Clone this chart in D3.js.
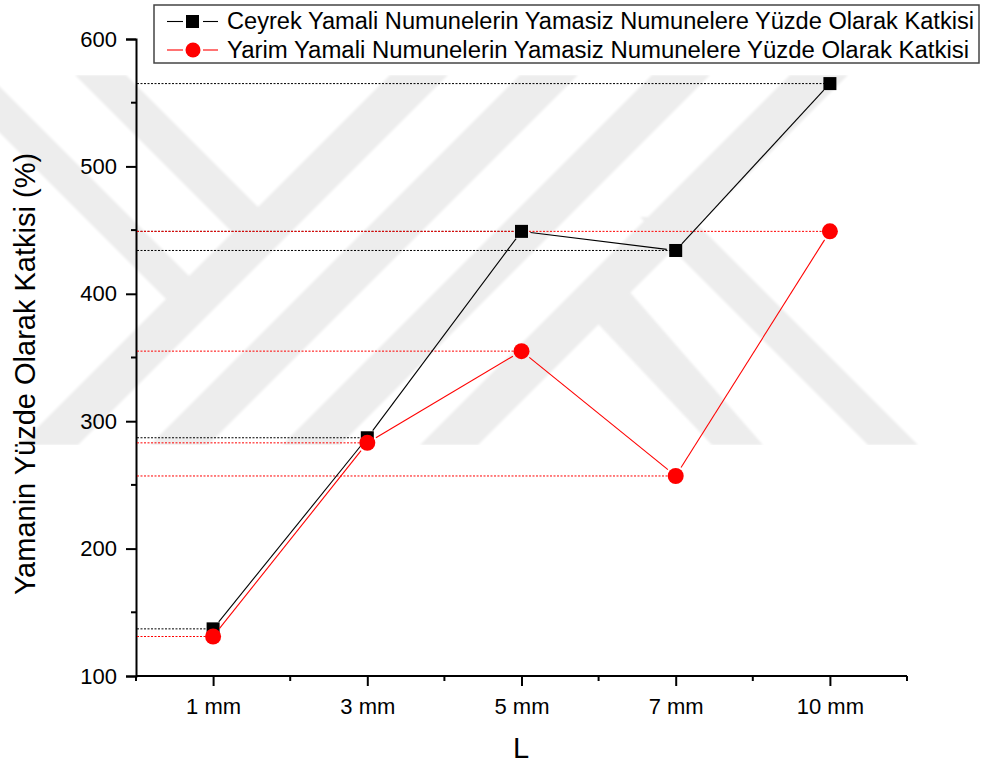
<!DOCTYPE html>
<html>
<head>
<meta charset="utf-8">
<script src="https://cdn.jsdelivr.net/npm/d3@7/dist/d3.min.js"></script>
<style>
  html, body { margin: 0; padding: 0; background: #ffffff; }
  svg text { font-family: "Liberation Sans", Arial, sans-serif; fill: #000; }
</style>
</head>
<body>
<svg id="chart" width="984" height="765"></svg>
<script>
// Data
const categories = ["1 mm", "3 mm", "5 mm", "7 mm", "10 mm"];
const ceyrekValues = [137, 287, 449, 434, 565];
const yarimValues = [131, 283, 355, 257, 449];
const yTickValues = [100, 200, 300, 400, 500, 600];
const yMinorValues = [150, 250, 350, 450, 550];
const seriesNames = [
  "Ceyrek Yamali Numunelerin Yamasiz Numunelere Yüzde Olarak Katkisi",
  "Yarim Yamali Numunelerin Yamasiz Numunelere Yüzde Olarak Katkisi"
];
const xTitle = "L";
const yTitle = "Yamanin Yüzde Olarak Katkisi (%)";

const svg = d3.select("#chart");

// Background watermark: diagonal light-grey bands
const watermark = [
  [[20,445],[78,445],[448,75],[390,75]],
  [[150,445],[208,445],[578,75],[520,75]],
  [[282,445],[340,445],[710,75],[652,75]],
  [[420,445],[478,445],[848,75],[790,75]],
  [[75,75],[126,75],[275,224],[245,245]],
  [[-20,67],[193,280],[172,305],[-20,113]],
  [[585,310],[628,290],[763,445],[712,445]],
  [[640,217],[690,217],[918,445],[868,445]]
];
const defs = svg.append("defs");
defs.append("filter").attr("id", "soft")
  .append("feGaussianBlur").attr("stdDeviation", 0.8);
defs.append("clipPath").attr("id", "wmclip")
  .append("rect").attr("x", 0).attr("y", 75).attr("width", 984).attr("height", 370);
svg.append("g").attr("clip-path", "url(#wmclip)")
  .append("g").attr("filter", "url(#soft)")
  .selectAll("polygon").data(watermark).join("polygon")
  .attr("points", d => d.map(p => p.join(",")).join(" "))
  .attr("fill", "#ededed");

// Scales
const x = d3.scalePoint().domain(categories).range([136, 907]).padding(0.5);
const y = d3.scaleLinear().domain([100, 600]).range([676, 39]);
const step = x.step();

// Axes
const yAxis = d3.axisLeft(y).tickValues(yTickValues).tickSize(10).tickPadding(9).tickFormat(d3.format("d"));
const gy = svg.append("g").attr("transform", "translate(136,0)").call(yAxis);
gy.select(".domain").attr("stroke", "#000").attr("stroke-width", 2);
gy.selectAll(".tick line").attr("stroke", "#000").attr("stroke-width", 2);
gy.selectAll(".tick text").attr("font-size", 22).attr("font-family", "Liberation Sans, Arial, sans-serif");
gy.append("g").selectAll("line").data(yMinorValues).join("line")
  .attr("x1", -5).attr("x2", 0).attr("y1", d => y(d)).attr("y2", d => y(d))
  .attr("stroke", "#000").attr("stroke-width", 2);

const xAxis = d3.axisBottom(x).tickSize(10).tickPadding(12);
const gx = svg.append("g").attr("transform", "translate(0,676)").call(xAxis);
gx.select(".domain").attr("d", "M136,0H907").attr("stroke", "#000").attr("stroke-width", 2);
gx.selectAll(".tick line").attr("stroke", "#000").attr("stroke-width", 2);
gx.selectAll(".tick text").attr("font-size", 22).attr("font-family", "Liberation Sans, Arial, sans-serif");
const xMinor = [x(categories[0]) - step / 2].concat(categories.map(c => x(c) + step / 2));
gx.append("g").selectAll("line").data(xMinor).join("line")
  .attr("x1", d => d).attr("x2", d => d).attr("y1", 0).attr("y2", 5)
  .attr("stroke", "#000").attr("stroke-width", 2);

// Axis titles
svg.append("text").attr("x", 521).attr("y", 758).attr("text-anchor", "middle")
  .attr("font-size", 29).text(xTitle);
svg.append("text").attr("transform", "translate(35,374) rotate(-90)").attr("text-anchor", "middle")
  .attr("font-size", 29).text(yTitle);

// Series definitions
const series = [
  { name: seriesNames[0], values: ceyrekValues, color: "#000000", shape: "square", gap: 9 },
  { name: seriesNames[1], values: yarimValues, color: "#ff0000", shape: "circle", gap: 10 }
];

// Dotted drop lines from the y axis to each point
series.forEach(s => {
  svg.append("g").selectAll("line").data(s.values).join("line")
    .attr("x1", 137).attr("x2", (d, i) => x(categories[i]))
    .attr("y1", d => y(d)).attr("y2", d => y(d))
    .attr("stroke", s.color).attr("stroke-width", 1)
    .attr("stroke-dasharray", "2,1.5");
});

// Connecting segments, shortened so they stop short of the markers
function drawSegments(g, pts, color, gap) {
  for (let i = 0; i < pts.length - 1; i++) {
    const [x1, y1] = pts[i], [x2, y2] = pts[i + 1];
    const len = Math.hypot(x2 - x1, y2 - y1);
    const ux = (x2 - x1) / len, uy = (y2 - y1) / len;
    g.append("line")
      .attr("x1", x1 + ux * gap).attr("y1", y1 + uy * gap)
      .attr("x2", x2 - ux * gap).attr("y2", y2 - uy * gap)
      .attr("stroke", color).attr("stroke-width", 1.1);
  }
}
function drawMarker(g, cx, cy, s) {
  if (s.shape === "square") {
    g.append("rect").attr("x", cx - 6.5).attr("y", cy - 6.5).attr("width", 13).attr("height", 13)
      .attr("fill", s.color);
  } else {
    g.append("circle").attr("cx", cx).attr("cy", cy).attr("r", 8).attr("fill", s.color);
  }
}

series.forEach(s => {
  const g = svg.append("g");
  const pts = s.values.map((v, i) => [x(categories[i]), y(v)]);
  drawSegments(g, pts, s.color, s.gap);
  pts.forEach(p => drawMarker(g, p[0], p[1], s));
});

// Legend
const legend = svg.append("g");
legend.append("rect").attr("x", 154).attr("y", 5).attr("width", 825).attr("height", 58)
  .attr("fill", "#fff").attr("stroke", "#444").attr("stroke-width", 1.5);
series.forEach((s, i) => {
  const cy = 21.5 + i * 28.5;
  const g = legend.append("g");
  g.append("line").attr("x1", 167).attr("x2", 183).attr("y1", cy).attr("y2", cy)
    .attr("stroke", s.color).attr("stroke-width", 1.1);
  g.append("line").attr("x1", 203).attr("x2", 218).attr("y1", cy).attr("y2", cy)
    .attr("stroke", s.color).attr("stroke-width", 1.1);
  if (s.shape === "square") {
    g.append("rect").attr("x", 186).attr("y", cy - 6.5).attr("width", 13).attr("height", 13).attr("fill", s.color);
  } else {
    g.append("circle").attr("cx", 193).attr("cy", cy).attr("r", 7.5).attr("fill", s.color);
  }
  g.append("text").attr("x", 227).attr("y", cy + 7.5).attr("font-size", 23.5)
    .attr("textLength", i === 0 ? 747 : 742).attr("lengthAdjust", "spacingAndGlyphs")
    .text(s.name);
});
</script>
</body>
</html>
